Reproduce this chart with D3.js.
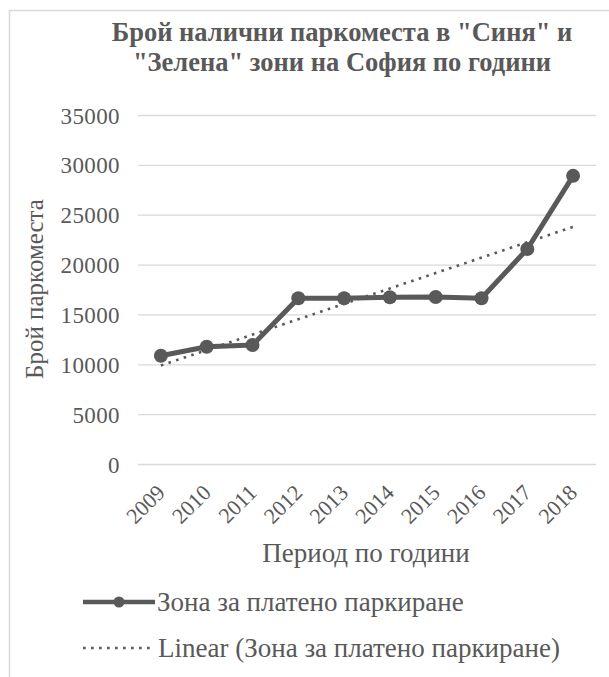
<!DOCTYPE html>
<html><head><meta charset="utf-8">
<script src="https://cdn.jsdelivr.net/npm/d3@7"></script>
<style>body{margin:0;background:#fff;} svg{display:block;}</style>
</head><body>
<script>
const years = ["2009","2010","2011","2012","2013","2014","2015","2016","2017","2018"];
const values = [10860, 11760, 11930, 16620, 16620, 16720, 16750, 16620, 21560, 28900];
const yTicks = [0, 5000, 10000, 15000, 20000, 25000, 30000, 35000];
const titleLines = ["Брой налични паркоместа в \"Синя\" и", "\"Зелена\" зони на София по години"];
const yTitle = "Брой паркоместа";
const xTitle = "Период по години";
const seriesName = "Зона за платено паркиране";
const trendName = "Linear (Зона за платено паркиране)";

const W = 609, H = 677;
const col = "#595959";
const font = "'Liberation Serif','Times New Roman',serif";
const svg = d3.select("body").append("svg").attr("width", W).attr("height", H)
  .style("font-family", font);

// chart border
svg.append("rect").attr("x", 9.5).attr("y", 10.5).attr("width", 640).attr("height", 700)
  .attr("fill", "none").attr("stroke", "#d9d9d9").attr("stroke-width", 1.5);

// title
svg.append("text").attr("x", 342).attr("y", 41).attr("text-anchor", "middle")
  .attr("font-size", 26.5).attr("font-weight", "bold").attr("fill", col)
  .selectAll("tspan").data(titleLines).join("tspan")
  .attr("x", 342).attr("dy", (d, i) => i ? 30 : 0).text(d => d);

const x = d3.scalePoint().domain(years).range([138, 596]).padding(0.5);
const y = d3.scaleLinear().domain([0, 35000]).range([464, 115]);

// gridlines
const yAxis = d3.axisLeft(y).tickValues(yTicks).tickSize(-(596 - 138)).tickPadding(18).tickFormat(d3.format("d"));
const gy = svg.append("g").attr("transform", "translate(138,0)").call(yAxis);
gy.select(".domain").remove();
gy.selectAll(".tick line").attr("stroke", "#d9d9d9").attr("stroke-width", 1.3);
gy.selectAll(".tick text").attr("fill", col).attr("font-size", 23).attr("letter-spacing", 0.4)
  .attr("font-family", font).attr("dy", "0.35em");

// x axis labels
const xAxis = d3.axisBottom(x).tickSize(0).tickPadding(0);
const gx = svg.append("g").attr("transform", "translate(0,464)").call(xAxis);
gx.select(".domain").remove();
gx.selectAll(".tick text").attr("fill", col).attr("font-size", 22).attr("font-family", font)
  .attr("text-anchor", "end").attr("dy", null).attr("y", 0)
  .attr("transform", "translate(5,30) rotate(-45)");

// axis titles
svg.append("text").attr("transform", "translate(43,289) rotate(-90)").attr("text-anchor", "middle")
  .attr("font-size", 25).attr("fill", col).text(yTitle);
svg.append("text").attr("x", 366).attr("y", 562).attr("text-anchor", "middle")
  .attr("font-size", 27).attr("fill", col).text(xTitle);

// linear trend (least squares from the data)
const n = values.length;
const xs = d3.range(1, n + 1);
const mx = d3.mean(xs), my = d3.mean(values);
const slope = d3.sum(xs, (xi, i) => (xi - mx) * (values[i] - my)) / d3.sum(xs, xi => (xi - mx) ** 2);
const icpt = my - slope * mx;
const trend = [years[0], years[n - 1]].map((yr, k) => [yr, icpt + slope * (k ? n : 1)]);
svg.append("path").datum(trend)
  .attr("d", d3.line().x(d => x(d[0])).y(d => y(d[1])))
  .attr("fill", "none").attr("stroke", col).attr("stroke-width", 2.6).attr("stroke-dasharray", "2.6 5.4");

// series line
svg.append("path").datum(values)
  .attr("d", d3.line().x((d, i) => x(years[i])).y(d => y(d)))
  .attr("fill", "none").attr("stroke", col).attr("stroke-width", 5).attr("stroke-linejoin", "round");
svg.selectAll("circle.pt").data(values).join("circle").attr("class", "pt")
  .attr("cx", (d, i) => x(years[i])).attr("cy", d => y(d)).attr("r", 7).attr("fill", col);

// legend
const lg = svg.append("g");
lg.append("line").attr("x1", 83).attr("x2", 155).attr("y1", 602).attr("y2", 602)
  .attr("stroke", col).attr("stroke-width", 4.5);
lg.append("circle").attr("cx", 119).attr("cy", 602).attr("r", 5.5).attr("fill", col);
lg.append("text").attr("x", 157).attr("y", 611).attr("font-size", 27).attr("fill", col).text(seriesName);
lg.append("line").attr("x1", 83).attr("x2", 150).attr("y1", 648).attr("y2", 648)
  .attr("stroke", col).attr("stroke-width", 2.6).attr("stroke-dasharray", "2.6 5.4");
lg.append("text").attr("x", 158).attr("y", 657).attr("font-size", 27).attr("fill", col).text(trendName);
</script>
</body></html>
